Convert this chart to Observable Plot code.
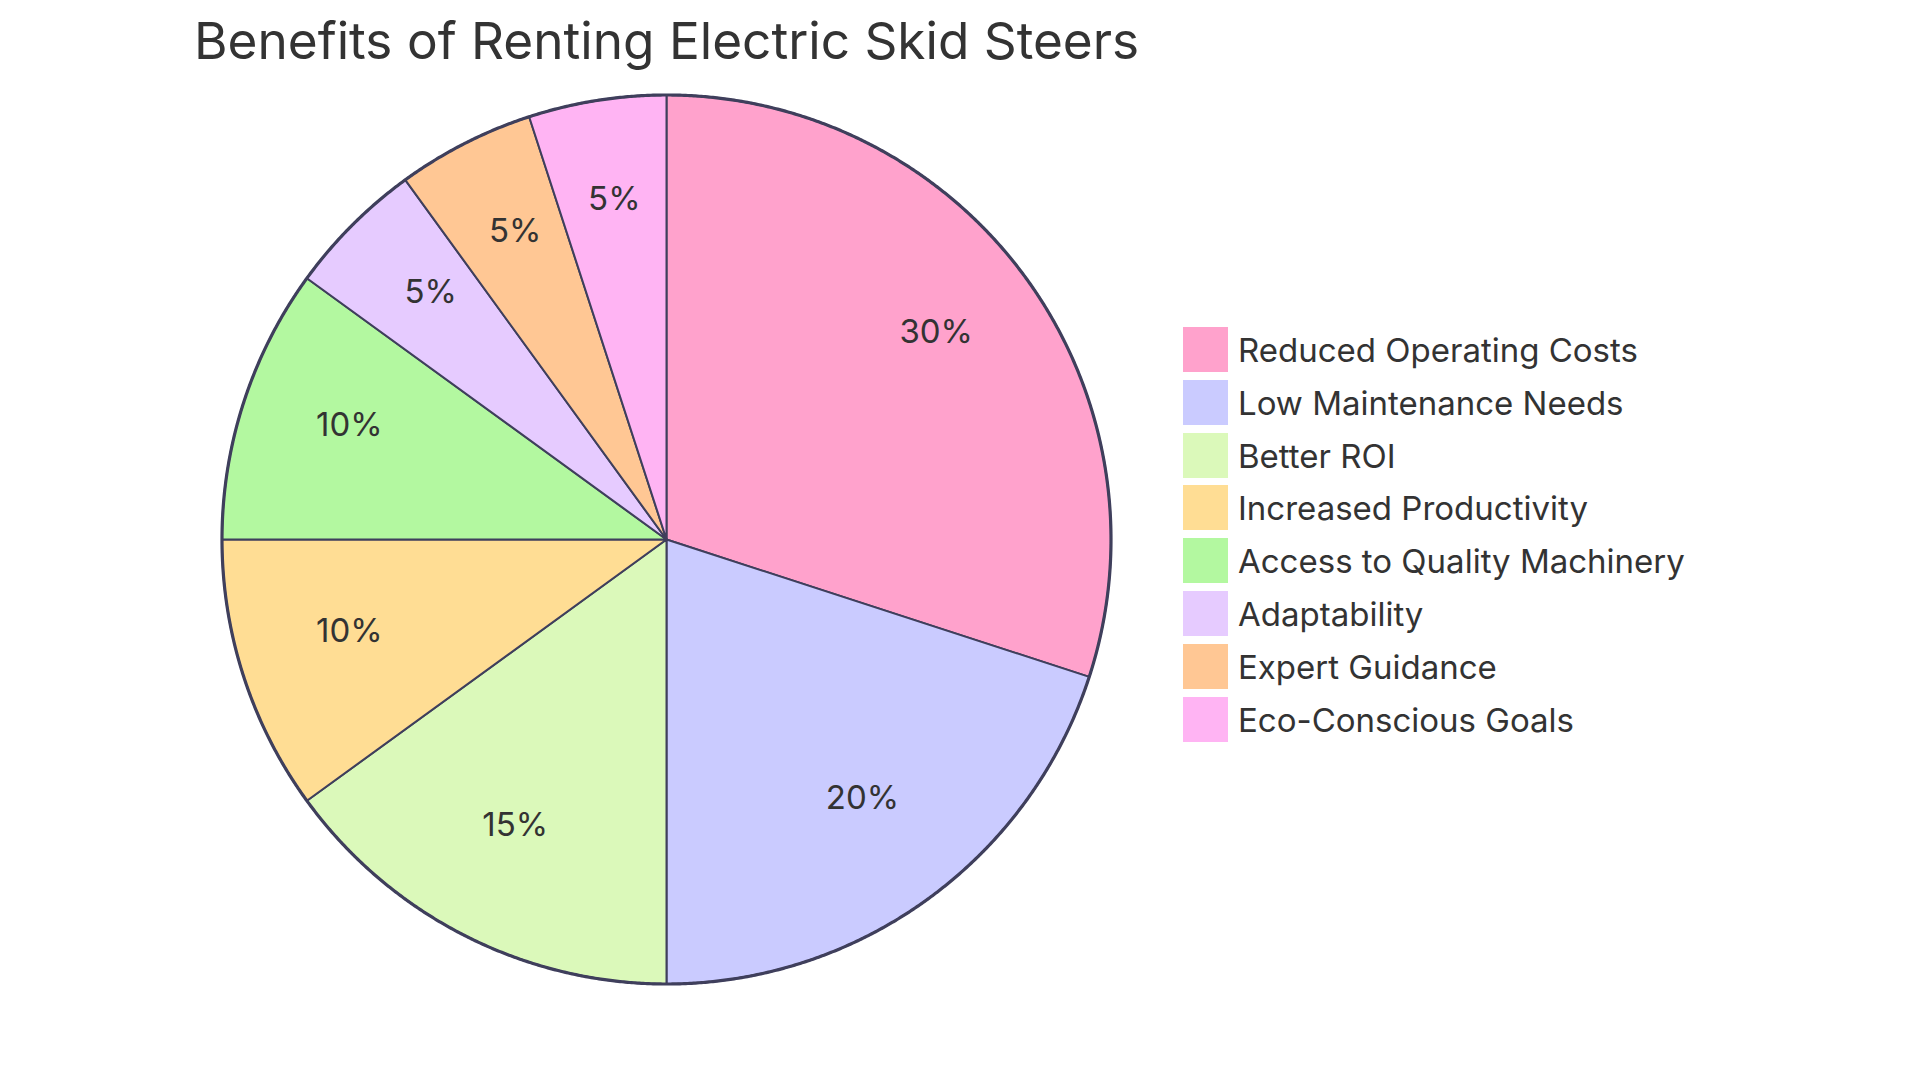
<!DOCTYPE html>
<html>
<head>
<meta charset="utf-8">
<script src="https://cdn.jsdelivr.net/npm/d3@7"></script>
<script src="https://cdn.jsdelivr.net/npm/@observablehq/plot@0.6"></script>
<style>
  html, body { margin: 0; padding: 0; background: #ffffff; }
  body { width: 1920px; height: 1080px; position: relative; overflow: hidden; font-family: Inter, "Noto Sans", sans-serif; }
  #title { position: absolute; left: 194px; top: 15px; font-size: 51.3px; line-height: 50px; color: #333333; white-space: nowrap; font-weight: 400; }
  #chart { position: absolute; left: 0; top: 0; }
  .lg-row { position: absolute; left: 1183px; height: 45px; display: flex; align-items: center; }
  .lg-sw { width: 45px; height: 45px; flex: none; }
  .lg-tx { margin-left: 10px; font-size: 33px; line-height: 45px; color: #333333; white-space: nowrap; position: relative; top: 1px; }
</style>
</head>
<body>
<div id="chart"></div>
<div id="title">Benefits of Renting Electric Skid Steers</div>
<div id="legend"></div>
<script>
const labels = ["Reduced Operating Costs", "Low Maintenance Needs", "Better ROI", "Increased Productivity", "Access to Quality Machinery", "Adaptability", "Expert Guidance", "Eco-Conscious Goals"];
const values = [30, 20, 15, 10, 10, 5, 5, 5];
const colors = ["#FFA2CC", "#CACBFF", "#DBF9BA", "#FFDD94", "#B3F8A0", "#E6CBFF", "#FFC794", "#FFB4F3"];

const W = 1920, H = 1080;
const cx = 666, cy = 539, R = 444.5;

const total = d3.sum(values);
// angles clockwise from 12 o'clock
const slices = [];
let acc = 0;
labels.forEach((label, i) => {
  const a0 = acc / total * 2 * Math.PI;
  acc += values[i];
  const a1 = acc / total * 2 * Math.PI;
  slices.push({label, value: values[i], a0, a1, pct: Math.round(values[i] / total * 100) + "%"});
});

const pts = [];
slices.forEach(s => {
  pts.push({label: s.label, x: 0, y: 0});
  const n = Math.max(2, Math.ceil((s.a1 - s.a0) / (Math.PI / 720)));
  for (let k = 0; k <= n; k++) {
    const a = s.a0 + (s.a1 - s.a0) * k / n;
    pts.push({label: s.label, x: Math.sin(a), y: Math.cos(a)});
  }
});
const circle = d3.range(0, 1441).map(k => { const a = k / 1440 * 2 * Math.PI; return {x: Math.sin(a), y: Math.cos(a)}; });
const labelPts = slices.map(s => { const m = (s.a0 + s.a1) / 2; return {text: s.pct, x: 0.75 * Math.sin(m), y: 0.75 * Math.cos(m)}; });

const chart = Plot.plot({
  width: W, height: H,
  margin: 0,
  x: {domain: [-cx / R, (W - cx) / R], range: [0, W], axis: null},
  y: {domain: [-(H - cy) / R, cy / R], range: [H, 0], axis: null},
  color: {domain: labels, range: colors},
  style: {background: "transparent", fontFamily: "Inter, 'Noto Sans', sans-serif"},
  marks: [
    Plot.line(pts, {x: "x", y: "y", z: "label", fill: "label", stroke: "#3f3f5c", strokeWidth: 2, curve: "linear-closed", strokeLinejoin: "round"}),
    Plot.line(circle, {x: "x", y: "y", stroke: "#3f3f5c", strokeWidth: 3.2, fill: "none"}),
    Plot.text(labelPts, {x: "x", y: "y", text: "text", fontSize: 33, fill: "#333333", textAnchor: "middle", lineAnchor: "middle", dy: -11})
  ]
});
document.getElementById("chart").appendChild(chart);

const lg = document.getElementById("legend");
labels.forEach((l, i) => {
  const row = document.createElement("div");
  row.className = "lg-row";
  row.style.top = (327 + i * 52.8) + "px";
  const sw = document.createElement("div");
  sw.className = "lg-sw";
  sw.style.background = chart.scale("color").apply(l);
  const tx = document.createElement("div");
  tx.className = "lg-tx";
  tx.textContent = l;
  row.appendChild(sw); row.appendChild(tx);
  lg.appendChild(row);
});
</script>
</body>
</html>
